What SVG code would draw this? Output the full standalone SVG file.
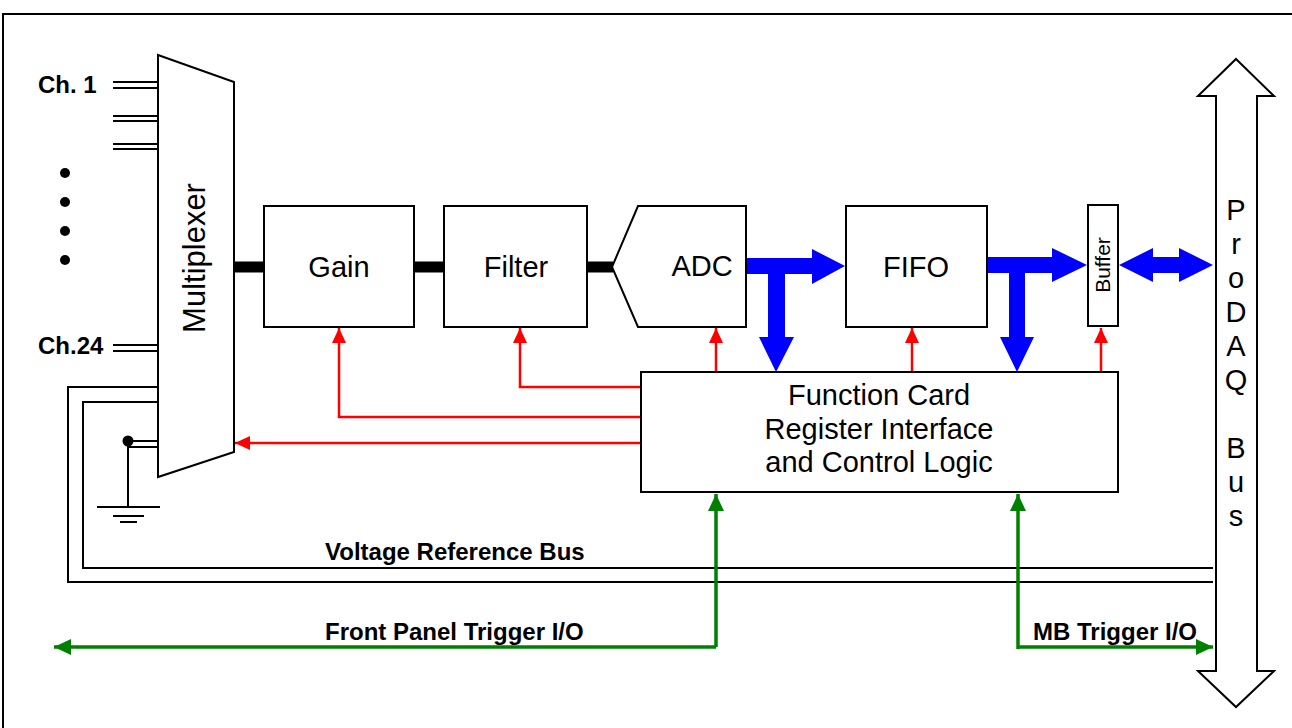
<svg xmlns="http://www.w3.org/2000/svg" width="1292" height="728" viewBox="0 0 1292 728">
<style>
.box{fill:#fff;stroke:#000;stroke-width:2}
.ln{fill:none;stroke:#000;stroke-width:2}
.lbl{font-family:"Liberation Sans",Arial,sans-serif;font-size:29px;fill:#000;text-anchor:middle}
.bold{font-family:"Liberation Sans",Arial,sans-serif;font-size:24px;font-weight:bold;fill:#000}
.red{fill:none;stroke:#FF0000;stroke-width:2.5}
.grn{fill:none;stroke:#008000;stroke-width:3.5}
.blue{fill:#0000FF;stroke:none}
.thick{stroke:#000;stroke-width:11}
</style>
<defs>
<marker id="ra" markerUnits="userSpaceOnUse" markerWidth="16" markerHeight="14" refX="15" refY="7" orient="auto">
<path d="M0,0 L15,7 L0,14 Z" fill="#FF0000"/>
</marker>
<marker id="ga" markerUnits="userSpaceOnUse" markerWidth="18" markerHeight="16" refX="17" refY="8" orient="auto">
<path d="M0,0 L17,8 L0,16 Z" fill="#008000"/>
</marker>
</defs>
<rect x="0" y="0" width="1292" height="728" fill="#fff"/>
<rect x="3" y="14" width="1310" height="730" fill="none" stroke="#000" stroke-width="2"/>

<g id="connectors">
<line class="thick" x1="234" y1="267" x2="264" y2="267"/>
<line class="thick" x1="414" y1="267" x2="444" y2="267"/>
<line class="thick" x1="587" y1="267" x2="613" y2="267"/>
<polyline class="ln" points="158,387 68,387 68,582 1213,582"/>
<polyline class="ln" points="158,402 83,402 83,568 1213,568"/>
<polyline class="red" points="640,417 339,417 339,328" marker-end="url(#ra)"/>
<polyline class="red" points="640,387 520,387 520,328" marker-end="url(#ra)"/>
<polyline class="red" points="640,443 235,443" marker-end="url(#ra)"/>
<line class="red" x1="716" y1="372" x2="716" y2="328" marker-end="url(#ra)"/>
<line class="red" x1="912" y1="372" x2="912" y2="328" marker-end="url(#ra)"/>
<line class="red" x1="1101" y1="372" x2="1101" y2="328" marker-end="url(#ra)"/>
<polygon class="blue" points="746,258 812,258 812,249 845,266 812,284 812,274 785,274 785,337 794,337 776,372 759,337 768,337 768,274 746,274"/>
<polygon class="blue" points="987,257 1052,257 1052,248 1087,265 1052,282 1052,273 1025,273 1025,337 1034,337 1017,372 1000,337 1009,337 1009,273 987,273"/>
<polygon class="blue" points="1119,265 1153,248 1153,257 1179,257 1179,248 1213,265 1179,282 1179,273 1153,273 1153,282"/>
<polyline class="grn" points="716,647 716,494" marker-end="url(#ga)"/>
<line class="grn" x1="716" y1="647" x2="54" y2="647" marker-end="url(#ga)"/>
<polyline class="grn" points="1018,649 1018,494" marker-end="url(#ga)"/>
<line class="grn" x1="1018" y1="647" x2="1213" y2="647" marker-end="url(#ga)"/>
</g>

<g id="inputs">
<line class="ln" x1="113" y1="82" x2="158" y2="82"/><line class="ln" x1="113" y1="88" x2="158" y2="88"/>
<line class="ln" x1="113" y1="116" x2="158" y2="116"/><line class="ln" x1="113" y1="121" x2="158" y2="121"/>
<line class="ln" x1="113" y1="144" x2="158" y2="144"/><line class="ln" x1="113" y1="149" x2="158" y2="149"/>
<line class="ln" x1="113" y1="345" x2="158" y2="345"/><line class="ln" x1="113" y1="351" x2="158" y2="351"/>
<text class="bold" x="38" y="93">Ch. 1</text>
<text class="bold" x="38" y="354">Ch.24</text>
<circle cx="65" cy="173" r="5"/>
<circle cx="65" cy="202" r="5"/>
<circle cx="65" cy="231" r="5"/>
<circle cx="65" cy="260" r="5"/>
</g>

<g id="ground">
<line class="ln" x1="128" y1="441" x2="158" y2="441"/>
<line class="ln" x1="128" y1="447" x2="158" y2="447"/>
<line class="ln" x1="128" y1="441" x2="128" y2="507"/>
<circle cx="128" cy="441" r="5.5"/>
<line class="ln" x1="97" y1="507" x2="160" y2="507"/>
<line class="ln" x1="113" y1="516" x2="144" y2="516"/>
<line class="ln" x1="120" y1="522" x2="137" y2="522"/>
</g>

<g id="multiplexer">
<polygon class="box" points="158,55 234,82 234,452 158,477"/>
<text class="lbl" style="font-size:31px" transform="translate(205,258) rotate(-90)">Multiplexer</text>
</g>

<g id="gain">
<rect class="box" x="264" y="206" width="150" height="121"/>
<text class="lbl" x="339" y="277">Gain</text>
</g>

<g id="filter">
<rect class="box" x="444" y="206" width="143" height="121"/>
<text class="lbl" x="516" y="277">Filter</text>
</g>

<g id="adc">
<polygon class="box" points="612,267 638,206 746,206 746,327 638,327"/>
<text class="lbl" x="702" y="276">ADC</text>
</g>

<g id="fifo">
<rect class="box" x="846" y="206" width="141" height="121"/>
<text class="lbl" x="916" y="277">FIFO</text>
</g>

<g id="buffer">
<rect class="box" x="1088" y="205" width="30" height="121"/>
<text class="lbl" style="font-size:21px" transform="translate(1110,265) rotate(-90)">Buffer</text>
</g>

<g id="function-card">
<rect class="box" x="641" y="372" width="477" height="120"/>
<text class="lbl" x="879" y="405">Function Card</text>
<text class="lbl" x="879" y="439">Register Interface</text>
<text class="lbl" x="879" y="472">and Control Logic</text>
</g>

<g id="prodaq-bus">
<polygon class="box" points="1236,59 1274,96 1257,96 1257,671 1274,671 1236,707 1198,671 1216,671 1216,96 1198,96"/>
<text class="lbl" x="1236" y="220">P</text>
<text class="lbl" x="1236" y="254">r</text>
<text class="lbl" x="1236" y="288">o</text>
<text class="lbl" x="1236" y="322">D</text>
<text class="lbl" x="1236" y="356">A</text>
<text class="lbl" x="1236" y="390">Q</text>
<text class="lbl" x="1236" y="458">B</text>
<text class="lbl" x="1236" y="492">u</text>
<text class="lbl" x="1236" y="526">s</text>
</g>

<g id="labels">
<text class="bold" x="325" y="560">Voltage Reference Bus</text>
<text class="bold" x="325" y="640">Front Panel Trigger I/O</text>
<text class="bold" x="1033" y="640">MB Trigger I/O</text>
</g>
</svg>
